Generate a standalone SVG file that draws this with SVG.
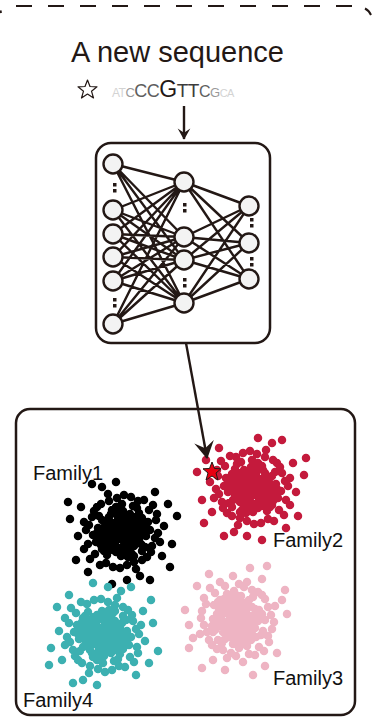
<svg xmlns="http://www.w3.org/2000/svg" xmlns:xlink="http://www.w3.org/1999/xlink" width="372" height="719" viewBox="0 0 372 719">
<style>
.ln{fill:none;stroke:#231815;stroke-width:2.4}
.box{fill:#fff;stroke:#231815;stroke-width:2.5}
.nd{fill:#f3f3f3;stroke:#231815;stroke-width:2.4}
.dt{fill:#231815}
.lbl{font-family:"Liberation Sans",Arial,sans-serif;font-size:20px;fill:#111}
.pts{fill:none;stroke-width:8.5;stroke-linecap:round}
</style>
<defs>
<marker id="arrow" viewBox="-16 -10 17 20" refX="0" refY="0" markerUnits="userSpaceOnUse" markerWidth="20" markerHeight="22" orient="auto">
<path d="M1 0 L-15 -9 L-9 0 L-15 9 Z" fill="#231815"/>
</marker>
<marker id="arrowS" viewBox="-16 -10 17 20" refX="0" refY="0" markerUnits="userSpaceOnUse" markerWidth="13" markerHeight="14" orient="auto">
<path d="M1 0 L-15 -9 L-9 0 L-15 9 Z" fill="#231815"/>
</marker>
<path id="pts" d="M0 0h0M5 -3h0M-6 4h0M10 6h0M-12 -5h0M3 12h0M-4 -14h0M14 -10h0M-15 10h0M8 -18h0M-9 18h0M18 2h0M-19 -1h0M1 -8h0M-2 7h0M7 9h0M-8 -9h0M12 14h0M-13 -15h0M16 -4h0M-17 5h0M4 19h0M-5 -20h0M20 -14h0M-21 13h0M11 -2h0M-11 2h0M6 -11h0M-7 11h0M15 9h0M-16 -9h0M2 -16h0M-3 16h0M9 3h0M-10 -3h0M13 -15h0M-14 15h0M19 12h0M-20 -12h0M0 20h0M1 -21h0M22 -6h0M-22 6h0M24 4h0M-24 -4h0M10 22h0M-10 -22h0M17 -19h0M-18 19h0M23 15h0M-23 -16h0M6 25h0M-6 -25h0M26 -10h0M-26 10h0M3 4h0M-4 -2h0M8 -5h0M-9 6h0M14 3h0M-15 -2h0M5 15h0M-4 -15h0M12 -8h0M-12 8h0M18 -9h0M-18 9h0M2 10h0M-1 -11h0M21 0h0M-3 -5h0M4 -9h0M9 -13h0M-8 14h0M-13 -10h0M17 7h0M-18 -5h0M6 16h0M-6 20h0M-1 24h0M20 19h0M-20 17h0M15 -24h0M-11 -18h0M25 -3h0M-25 1h0M12 24h0M-15 23h0M0 -28h0M11 -26h0M28 -2h0M-29 3h0M30 14h0M-30 -15h0M12 30h0M-13 -31h0M27 -22h0M-27 22h0M33 6h0M-33 -7h0M20 28h0M-21 -28h0M5 33h0M-5 -34h0M34 -12h0M-34 12h0M25 25h0M-25 -25h0M16 -31h0M-16 31h0M31 -27h0M-32 27h0M36 1h0M-36 -2h0M-2 36h0M2 -37h0M29 20h0M-28 -21h0M22 -32h0M-22 33h0M35 -18h0M-38 17h0M9 -35h0M-9 35h0M38 10h0M-38 -10h0M14 37h0M-14 -38h0M42 -6h0M-44 4h0M40 24h0M-41 -25h0M18 44h0M-20 -45h0M46 -28h0M-46 28h0M5 48h0M-6 -50h0M50 12h0M-52 -13h0M33 -40h0M-34 40h0M48 35h0M-30 -48h0M55 -16h0M-10 52h0M28 48h0M-54 -30h0"/>
</defs>
<g id="outer-frame">
<path d="M16 6H352" fill="none" stroke="#231815" stroke-width="2" stroke-dasharray="16 16"/>
<path d="M365 8.5Q369 10.5 371 15" fill="none" stroke="#231815" stroke-width="2"/>
<path d="M0.5 10.5L1 13" fill="none" stroke="#231815" stroke-width="2"/>
</g>
<g id="title">
<text x="177.5" y="62" text-anchor="middle" font-family="Liberation Sans, Arial, sans-serif" font-size="29" fill="#231815">A new sequence</text>
</g>
<g id="sequence">
<path d="M87.5 80 L90 86.5 L97 86.8 L91.5 91.2 L93.5 98 L87.5 94 L81.5 98 L83.5 91.2 L78 86.8 L85 86.5 Z" fill="#fff" stroke="#231815" stroke-width="1.2" stroke-linejoin="round"/>
<text x="112" y="97" font-family="Liberation Sans, Arial, sans-serif" letter-spacing="-0.5"><tspan font-size="12" fill="#d3d3d3">AT</tspan><tspan font-size="13" fill="#9a9a9a">C</tspan><tspan font-size="18" fill="#5e5e5e">CC</tspan><tspan font-size="23" fill="#231815">G</tspan><tspan font-size="19" fill="#3c3c3c">TT</tspan><tspan font-size="16" fill="#5e5e5e">C</tspan><tspan font-size="13" fill="#9a9a9a">G</tspan><tspan font-size="11" fill="#d3d3d3">CA</tspan></text>
</g>
<g id="neural-network">
<rect class="box" x="96" y="143" width="174" height="200" rx="15"/>
<path class="ln" d="M113 164L184 182M113 164L184 237M113 164L184 260M113 164L184 303M113 210L184 182M113 210L184 237M113 210L184 260M113 210L184 303M113 234L184 182M113 234L184 237M113 234L184 260M113 234L184 303M113 257L184 182M113 257L184 237M113 257L184 260M113 257L184 303M113 281L184 182M113 281L184 237M113 281L184 260M113 281L184 303M113 324L184 182M113 324L184 237M113 324L184 260M113 324L184 303M184 182L249 206M184 182L249 243M184 182L249 279M184 237L249 206M184 237L249 243M184 237L249 279M184 260L249 206M184 260L249 243M184 260L249 279M184 303L249 206M184 303L249 243M184 303L249 279"/>
<circle class="nd" cx="113" cy="164" r="9.5"/>
<circle class="nd" cx="113" cy="210" r="9.5"/>
<circle class="nd" cx="113" cy="234" r="9.5"/>
<circle class="nd" cx="113" cy="257" r="9.5"/>
<circle class="nd" cx="113" cy="281" r="9.5"/>
<circle class="nd" cx="113" cy="324" r="9.5"/>
<circle class="nd" cx="184" cy="182" r="9.5"/>
<circle class="nd" cx="184" cy="237" r="9.5"/>
<circle class="nd" cx="184" cy="260" r="9.5"/>
<circle class="nd" cx="184" cy="303" r="9.5"/>
<circle class="nd" cx="249" cy="206" r="9.5"/>
<circle class="nd" cx="249" cy="243" r="9.5"/>
<circle class="nd" cx="249" cy="279" r="9.5"/>
<rect class="dt" x="113" y="183" width="3.5" height="3.5"/>
<rect class="dt" x="113" y="189" width="3.5" height="3.5"/>
<rect class="dt" x="113" y="298" width="3.5" height="3.5"/>
<rect class="dt" x="113" y="304" width="3.5" height="3.5"/>
<rect class="dt" x="183" y="203" width="3.5" height="3.5"/>
<rect class="dt" x="183" y="209" width="3.5" height="3.5"/>
<rect class="dt" x="183" y="278" width="3.5" height="3.5"/>
<rect class="dt" x="183" y="284" width="3.5" height="3.5"/>
<rect class="dt" x="250" y="218" width="3.5" height="3.5"/>
<rect class="dt" x="250" y="224" width="3.5" height="3.5"/>
<rect class="dt" x="250" y="257" width="3.5" height="3.5"/>
<rect class="dt" x="250" y="263" width="3.5" height="3.5"/>
</g>
<g id="embedding-space">
<rect class="box" x="16" y="409" width="339" height="306" rx="14"/>
</g>
<g id="family1">
<use xlink:href="#pts" href="#pts" class="pts" stroke="#000000" transform="translate(122 532)"/>
<text class="lbl" x="33" y="480">Family1</text>
</g>
<g id="family2">
<use xlink:href="#pts" href="#pts" class="pts" stroke="#c41a3c" transform="translate(252 488) scale(-1 1)"/>
<text class="lbl" x="273" y="547">Family2</text>
</g>
<g id="family3">
<use xlink:href="#pts" href="#pts" class="pts" stroke="#eeb4c3" transform="translate(237 620) rotate(90)"/>
<text class="lbl" x="273" y="685">Family3</text>
</g>
<g id="family4">
<use xlink:href="#pts" href="#pts" class="pts" stroke="#3cb0b1" transform="translate(103 635) scale(1 -1)"/>
<text class="lbl" x="23" y="707">Family4</text>
</g>
<g id="connectors">
<path class="ln" d="M184 106V139" marker-end="url(#arrowS)"/>
<path class="ln" d="M186 343L207 458" marker-end="url(#arrow)"/>
</g>
<g id="new-point">
<path d="M212 462 L214.5 468.5 L221 468.8 L216 473 L218 480 L212 476 L206 480 L208 473 L203 468.8 L209.5 468.5 Z" fill="#e60012" stroke="#231815" stroke-width="1" stroke-linejoin="round"/>
</g>
</svg>
